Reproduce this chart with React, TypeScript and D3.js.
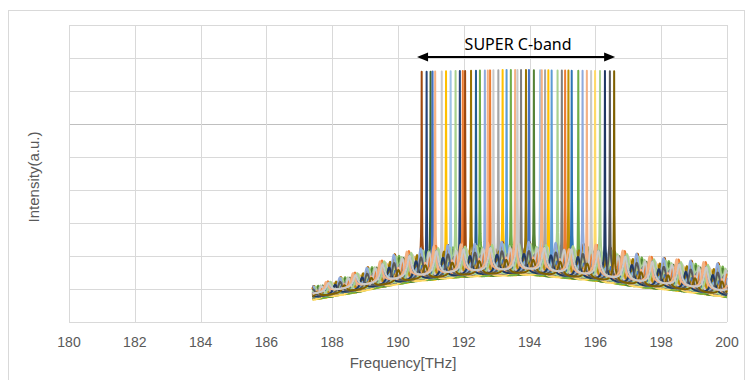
import React, { useEffect, useRef } from 'react';
import * as d3 from 'd3';

// lasing channel centres [THz]
const channelTHz = [
  190.72, 190.87, 190.99, 191.05, 191.13, 191.33, 191.46, 191.6, 191.75, 191.88,
  191.97, 192.04, 192.22, 192.37, 192.49, 192.64, 192.73, 192.8, 192.9, 193.05,
  193.18, 193.3, 193.43, 193.56, 193.63, 193.74, 193.89, 193.98, 194.13, 194.32,
  194.37, 194.47, 194.57, 194.67, 194.85, 194.98, 195.08, 195.18, 195.28, 195.48,
  195.61, 195.74, 195.87, 195.99, 196.14, 196.29, 196.44, 196.57,
];

const channelColors = [
  '#9E480E', '#264478', '#43682B', '#4472C4', '#F4B183', '#C9C9C9', '#FFC000', '#9DC3E6', '#A9D18E', '#264478',
  '#ED7D31', '#9E480E', '#997300', '#255E91', '#70AD47', '#8FAADC', '#F4B183', '#ED7D31', '#C9C9C9', '#A5A5A5',
  '#FFC000', '#5B9BD5', '#70AD47', '#F4B183', '#C9C9C9', '#7F7F7F', '#997300', '#4472C4', '#548235', '#9DC3E6',
  '#F4B183', '#A5A5A5', '#FFC000', '#5B9BD5', '#A9D18E', '#7F7F7F', '#ED7D31', '#BF9000', '#2E75B6', '#70AD47',
  '#8FAADC', '#F4B183', '#C9C9C9', '#FFD966', '#A9D18E', '#203864', '#595959', '#7F6000',
];

// relative ripple depth, repeating over the series
const rippleGain = [1, 0.5, 0.8, 0.35, 0.92, 0.6, 0.7, 0.42, 0.85, 0.55];

// yellow/green series whose floor sits a little lower (drawn first), and the pale ripple curve (drawn last)
const floorSeries = [6, 14, 20, 22, 28, 32, 39, 43];
const floorDrop = 0.07;
const topSeries = [23, 24];
const topLift = 0.12;

// peak level of the lasing lines
const peakKnots = [
  [190.7, 7.58],
  [193.5, 7.64],
  [196.6, 7.6],
];
// bottom of the noise floor
const floorKnots = [
  [187.4, 0.74], [188.85, 0.99], [189.45, 1.12], [190.5, 1.3], [192, 1.44],
  [194, 1.5], [196, 1.32], [197.4, 1.12], [198.5, 1.02], [200, 0.82],
];
// tips of the ripple on the noise floor
const rippleTopKnots = [
  [187.4, 1.08], [188.85, 1.55], [189.9, 2.05], [191, 2.3], [193.5, 2.45],
  [196, 2.35], [197.66, 1.98], [200, 1.75],
];
const ripplePeriod = 0.82;
const spanTHz = [187.4, 200];
const bandEdges = [190.58, 196.6];

const xTicks = [180, 182, 184, 186, 188, 190, 192, 194, 196, 198, 200];
const yGrid = [0, 1, 2, 3, 4, 5, 6, 7, 8, 9];

const knotScale = (k) =>
  d3.scaleLinear().domain(k.map((d) => d[0])).range(k.map((d) => d[1])).clamp(true);

const App = () => {
  const ref = useRef<SVGSVGElement | null>(null);

  useEffect(() => {
    if (!ref.current) return;
    const svg = d3.select(ref.current);
    svg.selectAll('*').remove();

    const margin = { top: 25, left: 69, right: 727, bottom: 322 };
    const x = d3.scaleLinear().domain([180, 200]).range([margin.left, margin.right]);
    const y = d3.scaleLinear().domain([0, 9]).range([margin.bottom, margin.top]);

    svg.append('rect')
      .attr('x', 8.5).attr('y', 10.5).attr('width', 736).attr('height', 380)
      .attr('fill', '#fff').attr('stroke', '#D9D9D9');

    // grid
    svg.append('g').selectAll('line').data(yGrid).enter().append('line')
      .attr('x1', margin.left).attr('x2', margin.right)
      .attr('y1', (d) => Math.round(y(d)) + 0.5).attr('y2', (d) => Math.round(y(d)) + 0.5)
      .attr('stroke', (d) => (d === 6 ? '#BFBFBF' : '#D9D9D9')).attr('stroke-width', 1);
    svg.append('g').selectAll('line').data(xTicks).enter().append('line')
      .attr('y1', margin.top).attr('y2', margin.bottom)
      .attr('x1', (d) => Math.round(x(d)) + 0.5).attr('x2', (d) => Math.round(x(d)) + 0.5)
      .attr('stroke', '#D9D9D9').attr('stroke-width', 1);

    // tick labels
    svg.append('g').selectAll('text').data(xTicks).enter().append('text')
      .attr('x', (d) => x(d)).attr('y', 347)
      .attr('text-anchor', 'middle')
      .style('font', '14px "Liberation Sans", Arial, sans-serif')
      .attr('fill', '#595959')
      .text((d) => d);

    svg.append('text')
      .attr('x', (margin.left + margin.right) / 2 + 5).attr('y', 368)
      .attr('text-anchor', 'middle')
      .style('font', '15px "Liberation Sans", Arial, sans-serif')
      .attr('fill', '#595959')
      .text('Frequency[THz]');
    svg.append('text')
      .attr('transform', 'translate(39,177) rotate(-90)')
      .attr('text-anchor', 'middle')
      .style('font', '15px "Liberation Sans", Arial, sans-serif')
      .attr('fill', '#595959')
      .text('Intensity(a.u.)');

    // spectra
    const floor = knotScale(floorKnots);
    const top = knotScale(rippleTopKnots);
    const peak = knotScale(peakKnots);
    const base = d3.range(spanTHz[0], spanTHz[1] + 1e-6, 0.01);
    const fin = 10;
    const airyMin = 1 / (1 + fin);

    const spectrum = (i) => {
      const c = channelTHz[i];
      const isTop = topSeries.includes(i);
      const gain = isTop ? 0.8 : rippleGain[i % rippleGain.length];
      const off = isTop ? topLift : floorSeries.includes(i) ? -floorDrop : 0;
      const fs = base.concat([c - 0.004, c, c + 0.004]).sort((a, b) => a - b);
      const lift = peak(c) - floor(c) - off - (top(c) - floor(c) - off) * gain;
      return fs.map((f) => {
        const s = Math.sin((Math.PI * (f - c)) / ripplePeriod);
        const airy = (1 / (1 + fin * s * s) - airyMin) / (1 - airyMin);
        const lor = 1 / (1 + ((f - c) / 0.006) ** 2);
        return [f, floor(f) + off + (top(f) - floor(f) - off) * gain * airy + lift * lor];
      });
    };

    const line = d3.line().x((d) => x(d[0])).y((d) => y(d[1]));
    const rest = channelTHz.map((_, i) => i).filter((i) => !floorSeries.includes(i) && !topSeries.includes(i));
    const order = floorSeries.concat(rest, topSeries);

    svg.append('g').selectAll('path').data(order).enter().append('path')
      .attr('d', (i) => line(spectrum(i)))
      .attr('fill', 'none')
      .attr('stroke', (i) => channelColors[i])
      .attr('stroke-width', 2)
      .attr('stroke-linejoin', 'round');

    // band arrow
    const ay = 57;
    const ax0 = x(bandEdges[0]);
    const ax1 = x(bandEdges[1]);
    svg.append('line')
      .attr('x1', ax0 + 6).attr('x2', ax1 - 6).attr('y1', ay).attr('y2', ay)
      .attr('stroke', '#000').attr('stroke-width', 2);
    svg.append('path')
      .attr('d', `M${ax0},${ay}L${ax0 + 11},${ay - 4.5}L${ax0 + 11},${ay + 4.5}Z`)
      .attr('fill', '#000');
    svg.append('path')
      .attr('d', `M${ax1},${ay}L${ax1 - 11},${ay - 4.5}L${ax1 - 11},${ay + 4.5}Z`)
      .attr('fill', '#000');
    svg.append('text')
      .attr('x', (ax0 + ax1) / 2 + 2).attr('y', 50)
      .attr('text-anchor', 'middle')
      .style('font', '16px "Noto Sans", sans-serif')
      .attr('fill', '#000')
      .text('SUPER C-band');
  }, []);

  return (
    <svg
      ref={ref}
      width={751}
      height={380}
      style={{ position: 'absolute', left: 0, top: 0, background: '#fff' }}
    />
  );
};

export default App;
